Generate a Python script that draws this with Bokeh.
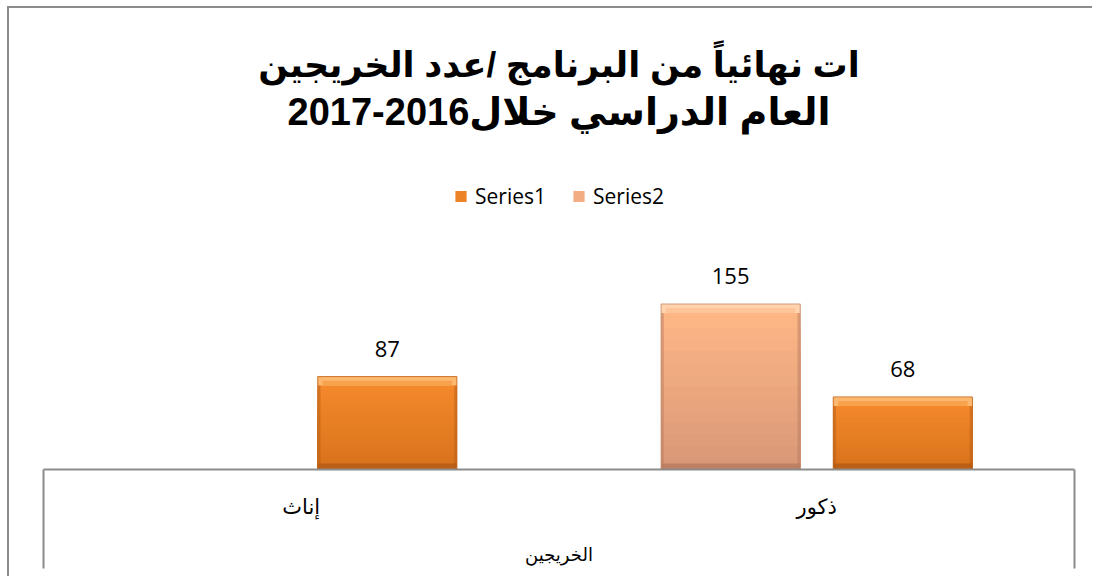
from bokeh.plotting import figure
from bokeh.models import Range1d, FixedTicker, LinearAxis, Legend, LegendItem, Title
from bokeh.core.properties import value
from bokeh.embed import file_html
from bokeh.resources import INLINE

# ---------------- data ----------------
title_lines = ["ات نهائياً من البرنامج /عدد الخريجين", "العام الدراسي خلال2016-2017"]
categories = ["إناث", "ذكور"]
series_names = ["Series1", "Series2"]
series1 = [87, 68]
series2 = [None, 155]
x_axis_title = "الخريجين"

# ---------------- styling ----------------
GREY = "#8c8c8c"
BAR_W = 0.27
OFF = 0.167
PX_PER_UNIT = 1.068
Y_MAX = 280

def hex2rgb(h):
    h = h.lstrip("#")
    return tuple(int(h[i:i + 2], 16) for i in (0, 2, 4))

def mix(a, b, t):
    ra, rb = hex2rgb(a), hex2rgb(b)
    return "#%02x%02x%02x" % tuple(int(round(ra[i] + (rb[i] - ra[i]) * t)) for i in range(3))

p = figure(width=1085, height=570,
           x_range=Range1d(0, len(categories)), y_range=Range1d(0, Y_MAX),
           x_axis_location=None, y_axis_location=None,
           output_backend="svg", toolbar_location=None,
           min_border_left=34, min_border_right=20, min_border_top=162, min_border_bottom=109,
           margin=(6, 0, 0, 7),
           styles={"border-left": "2px solid " + GREY, "border-top": "2px solid " + GREY})
p.grid.visible = False
p.outline_line_color = None
p.background_fill_color = "white"
p.border_fill_color = "white"

idx = list(range(len(categories)))
s1_x = [i + 0.5 + OFF for i in idx]
s2_x = [i + 0.5 - OFF for i in idx]


def draw_series(xs, vals, top_col, bot_col, light_col, dark_col, edge_col):
    xv = [x for x, v in zip(xs, vals) if v is not None]
    vv = [v for v in vals if v is not None]
    n = 14
    rends = []
    for k in range(n):
        frac = (n - k) / n
        col = mix(top_col, bot_col, k / (n - 1))
        r = p.vbar(x=xv, top=[v * frac for v in vv], bottom=0, width=BAR_W,
                   fill_color=col, line_color=None)
        rends.append(r)
    bev = 9 / PX_PER_UNIT
    p.vbar(x=xv, top=vv, bottom=[v - bev for v in vv], width=BAR_W,
           fill_color=light_col, line_color=None)
    p.vbar(x=xv, top=[v - bev * 0.45 for v in vv], bottom=[v - bev for v in vv], width=BAR_W * 0.93,
           fill_color=mix(light_col, top_col, 0.5), line_color=None)
    p.vbar(x=xv, top=6 / PX_PER_UNIT, bottom=0, width=BAR_W,
           fill_color=dark_col, line_color=None, fill_alpha=0.8)
    side = BAR_W * 0.02
    for sgn in (-1, 1):
        p.vbar(x=[x + sgn * (BAR_W / 2 - side / 2) for x in xv], top=[v - bev for v in vv], bottom=0,
               width=side, fill_color=dark_col, line_color=None, fill_alpha=0.45)
    p.vbar(x=xv, top=vv, bottom=0, width=BAR_W, fill_color=None,
           line_color=edge_col, line_width=1, line_alpha=0.8)
    return rends[n // 3]

r1 = draw_series(s1_x, series1, "#f68b2c", "#d8721c", "#fbb86e", "#b35a14", "#c0641c")
r2 = draw_series(s2_x, series2, "#ffb786", "#d99878", "#ffd3ae", "#b57a60", "#c58a6c")

# data labels
lab_x, lab_y, lab_t = [], [], []
for xs, vals in ((s1_x, series1), (s2_x, series2)):
    for x, v in zip(xs, vals):
        if v is not None:
            lab_x.append(x)
            lab_y.append(v)
            lab_t.append(str(v))
p.text(x=lab_x, y=lab_y, text=lab_t, text_align="center", text_baseline="alphabetic",
       y_offset=-28, text_font=value("Open Sans"), text_font_size="22px", text_color="#000000")

# title: two centred lines (second line nearest the plot), with a spacer below them
TITLE_FONT = "'Liberation Sans', 'DejaVu Sans'"
spacer = Title(text=" ", align="center", text_font_size="10px", standoff=22)
t2 = Title(text=title_lines[1], align="center", text_font=TITLE_FONT, text_font_size="38px",
           text_font_style="bold", text_color="#000000", standoff=5)
t1 = Title(text=title_lines[0], align="center", text_font=TITLE_FONT, text_font_size="35px",
           text_font_style="bold", text_color="#000000", standoff=5)
p.title = None
p.add_layout(spacer, "above")
p.add_layout(t2, "above")
p.add_layout(t1, "above")

# legend
legend = Legend(items=[LegendItem(label=series_names[0], renderers=[r1]),
                       LegendItem(label=series_names[1], renderers=[r2])],
                location="top_center", orientation="horizontal",
                border_line_color=None, background_fill_alpha=0,
                label_text_font="Open Sans", label_text_font_size="21px",
                label_text_color="#000000",
                glyph_width=14, glyph_height=14, label_standoff=8, spacing=25,
                margin=12, padding=0)
p.add_layout(legend)

# category axis; minor ticks draw the sides of the axis box
xaxis = LinearAxis(ticker=FixedTicker(ticks=[i + 0.5 for i in idx], minor_ticks=[0, len(categories)]),
                   major_label_overrides={i + 0.5: c for i, c in zip(idx, categories)},
                   axis_label=x_axis_title)
xaxis.axis_line_color = GREY
xaxis.axis_line_width = 2
xaxis.major_tick_line_color = None
xaxis.major_tick_out = 0
xaxis.major_tick_in = 0
xaxis.minor_tick_line_color = GREY
xaxis.minor_tick_line_width = 2
xaxis.minor_tick_out = 99
xaxis.minor_tick_in = 0
xaxis.major_label_text_font = "DejaVu Sans"
xaxis.major_label_text_font_size = "21px"
xaxis.major_label_text_color = "#000000"
xaxis.major_label_standoff = -74
xaxis.axis_label_text_font = "DejaVu Sans"
xaxis.axis_label_text_font_size = "18px"
xaxis.axis_label_text_font_style = "normal"
xaxis.axis_label_text_color = "#000000"
xaxis.axis_label_standoff = 22
p.add_layout(xaxis, "below")

open("out.html", "w").write(file_html(p, INLINE))
